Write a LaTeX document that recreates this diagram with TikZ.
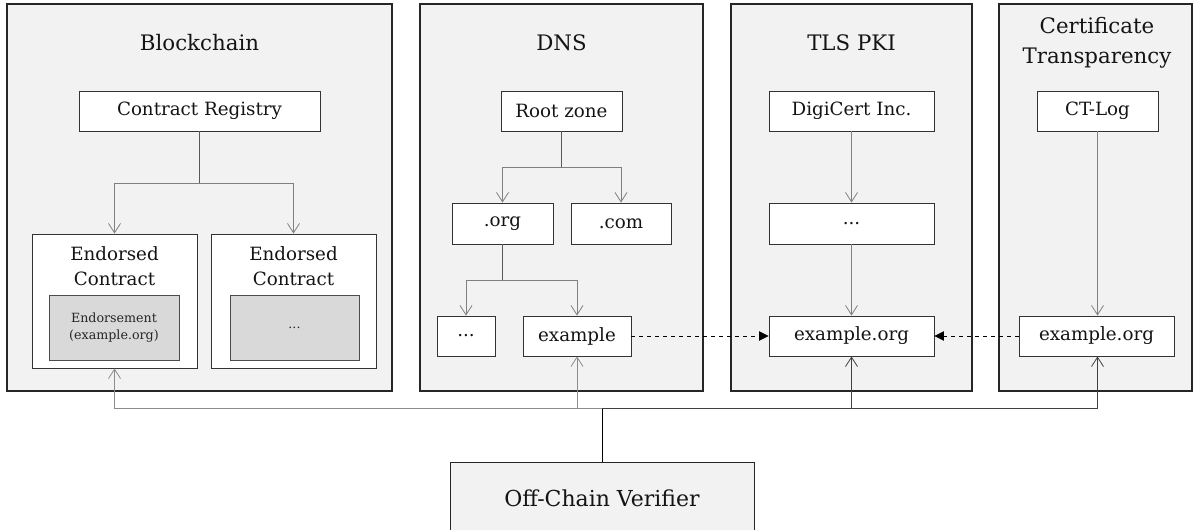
\documentclass[tikz,border=0pt]{standalone}
\usepackage{fontspec}
\setmainfont{DejaVu Serif}
\usetikzlibrary{arrows.meta}
\definecolor{panelfill}{HTML}{F2F2F2}
\definecolor{innerfill}{HTML}{D9D9D9}
\definecolor{edgedark}{HTML}{333333}
\definecolor{ink}{HTML}{141414}
\begin{document}
\begin{tikzpicture}[x=0.75pt,y=-0.75pt,
  panel/.style={draw=black!85,line width=0.9pt,fill=panelfill,inner sep=0pt},
  title/.style={font=\fontsize{16}{22.5}\selectfont,align=center,text=ink},
  box/.style={draw=edgedark,line width=0.7pt,fill=white,inner sep=0pt,
    font=\fontsize{13.7}{18.75}\selectfont,align=center,text=ink},
  inner/.style={draw=black!70,line width=0.7pt,fill=innerfill,inner sep=0pt,
    font=\fontsize{9.5}{12.8}\selectfont,align=center,text=black!85},
  stem/.style={draw=black!65,line width=0.6pt},
  branch/.style={draw=black!50,line width=0.6pt,-{Straight Barb[length=7pt,width=9pt]}},
  link/.style={draw=black,line width=0.6pt,dashed,-{Triangle[length=7pt,width=7pt]}},
  probe/.style={draw=black!45,line width=0.6pt,-{Straight Barb[length=7pt,width=9pt]}},
]
\useasboundingbox (0,0) rectangle (1193,529);

% ---------- panels ----------
\node[panel,minimum width=385*0.75pt,minimum height=387*0.75pt] (pbc) at (199.5,197.5) {};
\node[panel,minimum width=283*0.75pt,minimum height=387*0.75pt] (pdns) at (561.5,197.5) {};
\node[panel,minimum width=241*0.75pt,minimum height=387*0.75pt] (ptls) at (851.5,197.5) {};
\node[panel,minimum width=193*0.75pt,minimum height=387*0.75pt] (pct) at (1095.5,197.5) {};

\node[title] (tbc) at (199.5,43) {Blockchain};
\node[title] (tdns) at (561.5,43) {DNS};
\node[title] (ttls) at (851.5,43) {TLS PKI};
\node[title] (tct) at (1097,43) {Certificate\\Transparency};

% ---------- blockchain ----------
\node[box,minimum width=241*0.75pt,minimum height=40*0.75pt] (cr) at (199.5,111) {Contract Registry};
\node[box,minimum width=165*0.75pt,minimum height=134*0.75pt] (ec1) at (114.5,301) {};
\node[box,minimum width=165*0.75pt,minimum height=134*0.75pt] (ec2) at (293.5,301) {};
\node[box,draw=none,fill=none] (ec1t) at (114.5,266.5) {Endorsed\\Contract};
\node[box,draw=none,fill=none] (ec2t) at (293.5,266.5) {Endorsed\\Contract};
\node[inner,minimum width=130*0.75pt,minimum height=65*0.75pt] (en1) at (114,327.5) {Endorsement\\(example.org)};
\node[inner,minimum width=129*0.75pt,minimum height=65*0.75pt] (en2) at (294.5,327.5) {...};

% ---------- DNS ----------
\node[box,minimum width=121*0.75pt,minimum height=40*0.75pt] (root) at (561.5,111) {Root zone};
\node[box,minimum width=101*0.75pt,minimum height=41*0.75pt] (org) at (502.5,223.5) {.org};
\node[box,minimum width=100*0.75pt,minimum height=41*0.75pt] (com) at (621,223.5) {.com};
\node[box,minimum width=58*0.75pt,minimum height=40*0.75pt] (odots) at (466,336) {...};
\node[box,minimum width=108*0.75pt,minimum height=40*0.75pt] (ex) at (577,336) {example};

% ---------- TLS PKI ----------
\node[box,minimum width=165*0.75pt,minimum height=40*0.75pt] (dc) at (851.5,111) {DigiCert Inc.};
\node[box,minimum width=165*0.75pt,minimum height=41*0.75pt] (tdots) at (851.5,223.5) {...};
\node[box,minimum width=165*0.75pt,minimum height=40*0.75pt] (torg) at (851.5,336) {example.org};

% ---------- Certificate Transparency ----------
\node[box,minimum width=121*0.75pt,minimum height=40*0.75pt] (ctlog) at (1097.5,111) {CT-Log};
\node[box,minimum width=155*0.75pt,minimum height=40*0.75pt] (corg) at (1096.5,336) {example.org};

% ---------- verifier ----------
\node[panel,line width=0.7pt,minimum width=304*0.75pt,minimum height=73*0.75pt,
  font=\fontsize{16.5}{21}\selectfont,text=ink] (ver) at (602,498.5) {Off-Chain Verifier};

% ---------- hierarchy edges ----------
\draw[stem] (cr.south) -- (cr.south |- 0,183) coordinate (jcr);
\draw[branch] (jcr) -| (ec1.north);
\draw[branch] (jcr) -| (ec2.north);

\draw[stem] (root.south) -- (root.south |- 0,167) coordinate (jroot);
\draw[branch] (jroot) -| (org.north);
\draw[branch] (jroot) -| (com.north);

\draw[stem] (org.south) -- (org.south |- 0,280) coordinate (jorg);
\draw[branch] (jorg) -| (odots.north);
\draw[branch] (jorg) -| (ex.north);

\draw[branch] (dc) -- (tdots);
\draw[branch] (tdots) -- (torg);
\draw[branch] (ctlog.south) -- (ctlog.south |- corg.north);

% ---------- cross references ----------
\draw[link] (ex.east) -- (torg.west);
\draw[link] (corg.west) -- (torg.east);

% ---------- verifier lookups ----------
\draw[draw=black,line width=0.6pt] (ver.north) -- (ver.north |- 0,408) coordinate (jver);
\draw[probe] (jver) -| (ec1.south);
\draw[probe] (jver) -| (ex.south);
\draw[probe,draw=black!75] (jver) -| (torg.south);
\draw[probe,draw=black!75] (jver) -| (ctlog.south |- corg.south);
\end{tikzpicture}
\end{document}
